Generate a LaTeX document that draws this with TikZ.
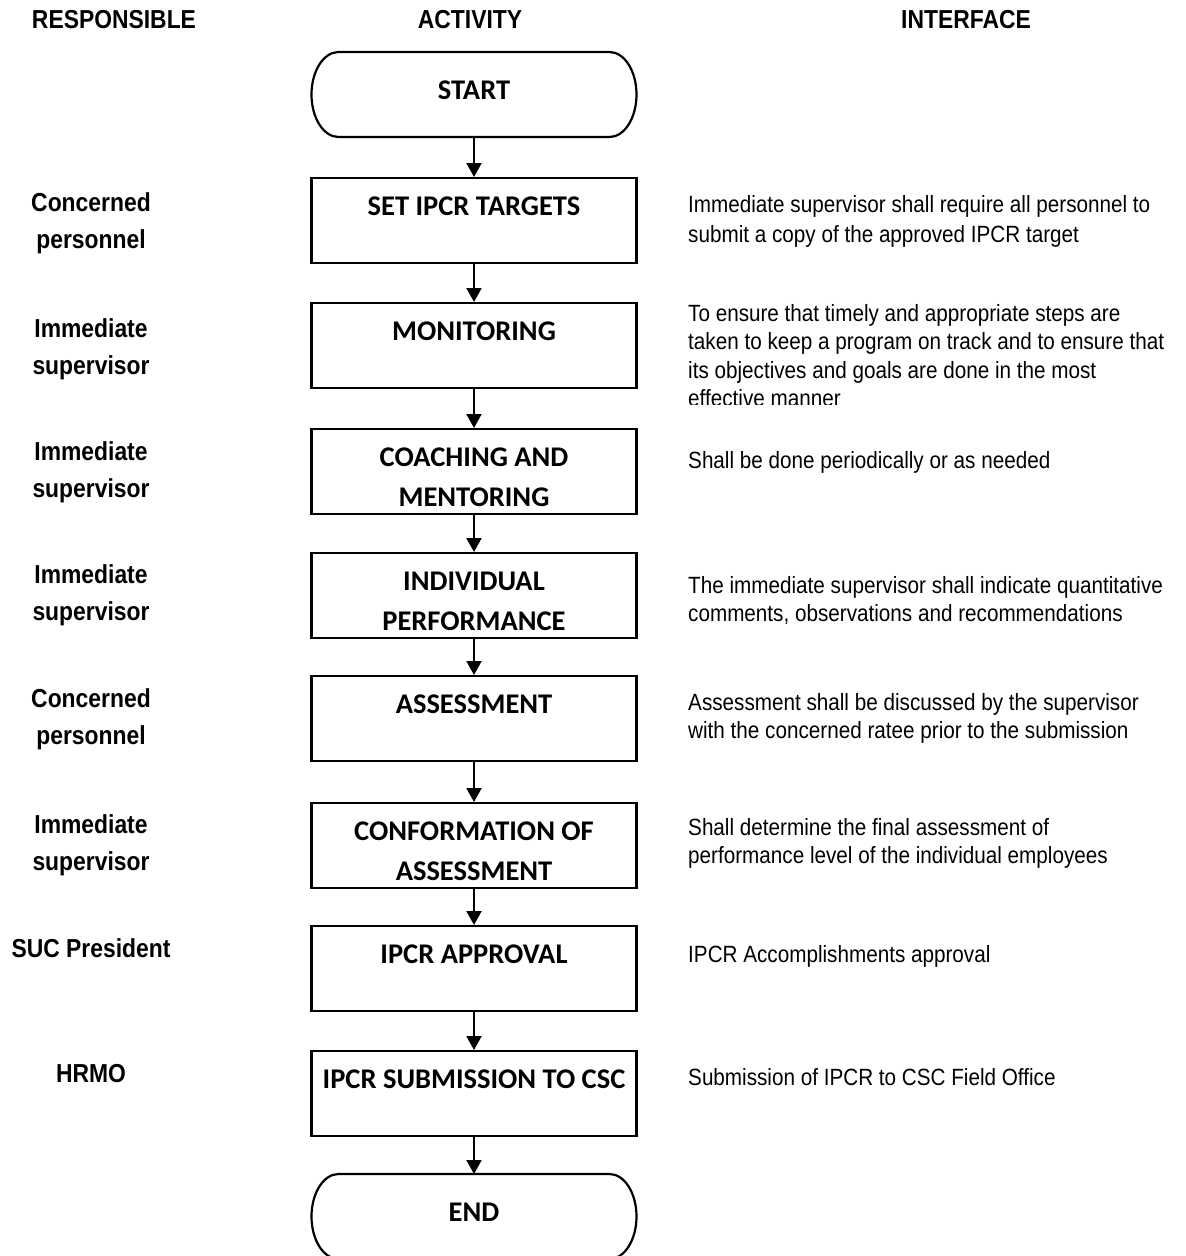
\documentclass[tikz,border=0pt]{standalone}
\usepackage{fontspec}
\setmainfont{Liberation Sans}
\newfontfamily\arialn[FakeStretch=0.88]{Liberation Sans}
\newfontfamily\calibri{Carlito}
\usetikzlibrary{arrows.meta}
% outline of a start/end terminal: straight top and bottom, elliptic ends
\newcommand{\termedge}[1]{%
    \draw[line width=2.2pt] ([xshift=27pt]#1.north west) -- ([xshift=-27pt]#1.north east)
        arc[start angle=90, end angle=-90, x radius=27pt, y radius=42.5pt]
        -- ([xshift=27pt]#1.south west)
        arc[start angle=270, end angle=90, x radius=27pt, y radius=42.5pt] -- cycle;}

\begin{document}
\begin{tikzpicture}[x=1pt, y=-1pt, >={Triangle[width=15pt,length=14pt]},
    flow/.style={->, line width=2pt},
    natural/.style={execute at begin node={\spaceskip=\fontdimen2\font\xspaceskip=\fontdimen2\font}},
    stepbox/.style={draw, line width=2.4pt, minimum width=325pt, text width=320pt,
        align=center, natural, inner sep=0pt, text height=37pt, text depth=48pt, anchor=north,
        font={\calibri\bfseries\fontsize{28.5}{40}\selectfont}},
    term/.style={minimum width=325pt, minimum height=85pt, inner sep=0pt, outer sep=0pt,
        anchor=north, text height=18pt, text depth=9pt,
        font={\calibri\bfseries\fontsize{28.5}{40}\selectfont}},
    head/.style={anchor=base, inner sep=0pt, font={\arialn\bfseries\fontsize{26}{30}\selectfont}},
    who/.style={text width=190pt, align=center, natural, anchor=base, inner sep=0pt,
        font={\arialn\bfseries\fontsize{26}{37}\selectfont}},
    note/.style={text width=520pt, align=left, natural, anchor=base west, inner sep=0pt,
        font={\arialn\fontsize{23.5}{28.5}\selectfont}}]
    \useasboundingbox (0,0) rectangle (1186,1256);

    % Column headers
    \node[head] (H1) at (114,28) {RESPONSIBLE};
    \node[head] (H2) at (470,28) {ACTIVITY};
    \node[head] (H3) at (966,28) {INTERFACE};

    % Activity column
    \node[term] (START) at (474,52) {START};
    \termedge{START}
    \node[stepbox] (SET) at (474,177) {SET IPCR TARGETS};
    \node[stepbox] (MON) at (474,302) {MONITORING};
    \node[stepbox] (COA) at (474,428) {COACHING AND\\MENTORING};
    \node[stepbox] (IND) at (474,552) {INDIVIDUAL\\PERFORMANCE};
    \node[stepbox] (ASM) at (474,675) {ASSESSMENT};
    \node[stepbox] (CON) at (474,802) {CONFORMATION OF\\ASSESSMENT};
    \node[stepbox] (APP) at (474,925) {IPCR APPROVAL};
    \node[stepbox] (SUB) at (474,1050) {IPCR SUBMISSION TO CSC};
    \node[term] (FIN) at (474,1174) {END};
    \termedge{FIN}

    % Arrows between the steps
    \draw[flow] (START) -- (SET);
    \draw[flow] (SET) -- (MON);
    \draw[flow] (MON) -- (COA);
    \draw[flow] (COA) -- (IND);
    \draw[flow] (IND) -- (ASM);
    \draw[flow] (ASM) -- (CON);
    \draw[flow] (CON) -- (APP);
    \draw[flow] (APP) -- (SUB);
    \draw[flow] (SUB) -- (FIN);

    % Responsible column
    \node[who] (SETr) at (91,211) {Concerned\\personnel};
    \node[who] (MONr) at (91,337) {Immediate\\supervisor};
    \node[who] (COAr) at (91,460) {Immediate\\supervisor};
    \node[who] (INDr) at (91,583) {Immediate\\supervisor};
    \node[who] (ASMr) at (91,707) {Concerned\\personnel};
    \node[who] (CONr) at (91,833) {Immediate\\supervisor};
    \node[who] (APPr) at (91,957) {SUC President};
    \node[who] (SUBr) at (91,1082) {HRMO};

    % Interface column
    \node[note, font={\arialn\fontsize{23.5}{30}\selectfont}] (SETi) at (688,212) {Immediate supervisor shall require all personnel to\\submit a copy of the approved IPCR target};
    \begin{scope}
        \clip (660,280) rectangle (1186,404);
        \node[note] (MONi) at (688,321) {To ensure that timely and appropriate steps are\\taken to keep a program on track and to ensure that\\its objectives and goals are done in the most\\effective manner};
    \end{scope}
    \node[note] (COAi) at (688,468) {Shall be done periodically or as needed};
    \node[note] (INDi) at (688,593) {The immediate supervisor shall indicate quantitative\\comments, observations and recommendations};
    \node[note] (ASMi) at (688,710) {Assessment shall be discussed by the supervisor\\with the concerned ratee prior to the submission};
    \node[note] (CONi) at (688,835) {Shall determine the final assessment of\\performance level of the individual employees};
    \node[note] (APPi) at (688,962) {IPCR Accomplishments approval};
    \node[note] (SUBi) at (688,1085) {Submission of IPCR to CSC Field Office};
\end{tikzpicture}
\end{document}
